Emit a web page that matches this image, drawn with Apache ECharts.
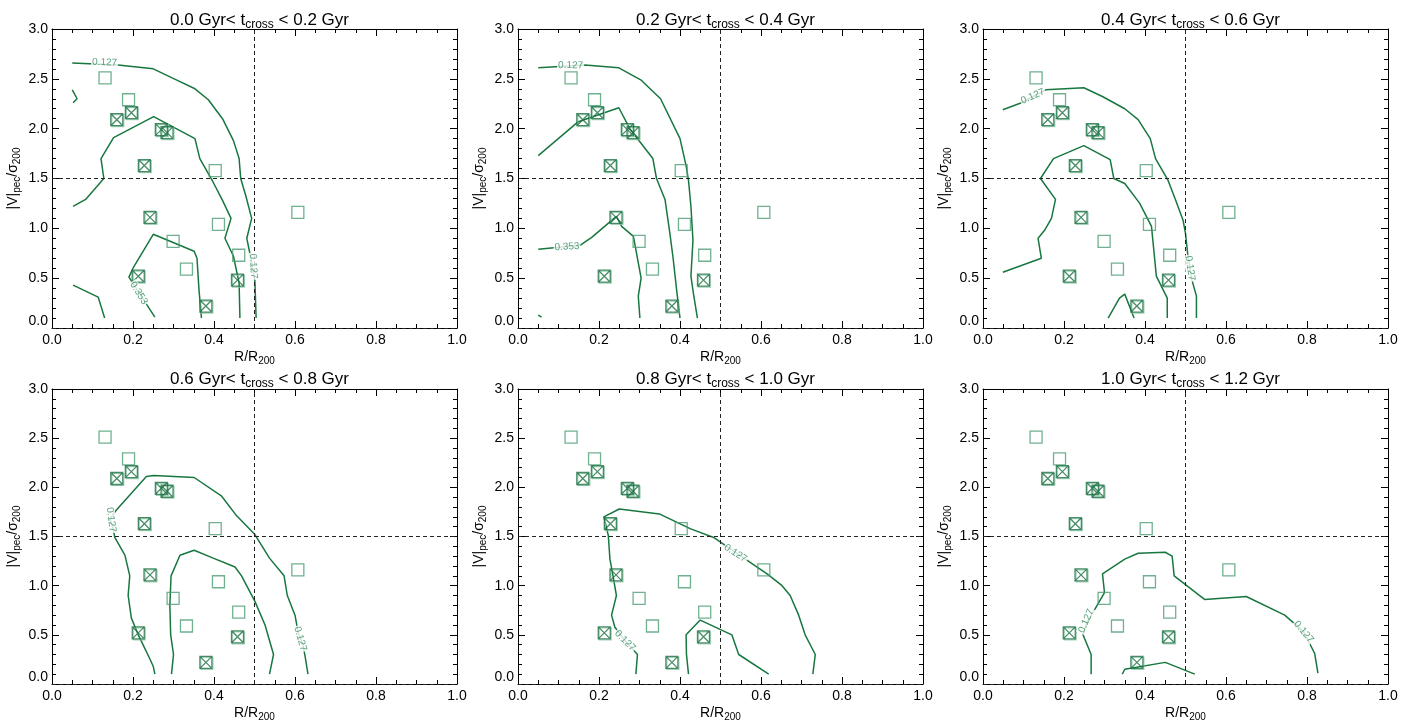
<!DOCTYPE html>
<html>
<head>
<meta charset="utf-8">
<script src="https://cdn.jsdelivr.net/npm/echarts@6/dist/echarts.min.js"></script>
<style>
html,body{margin:0;padding:0;background:#fff;}
#chart{width:1415px;height:723px;}
</style>
</head>
<body>
<div id="chart"></div>
<script>
// ---------- DATA ----------
const timeBins = [['0.0','0.2'],['0.2','0.4'],['0.4','0.6'],['0.6','0.8'],['0.8','1.0'],['1.0','1.2']];
const xTicks = [0, 0.2, 0.4, 0.6, 0.8, 1.0];
const yTicks = [0, 0.5, 1.0, 1.5, 2.0, 2.5, 3.0];
const splitR = 0.5;      // dashed vertical line R/R200
const splitV = 1.5;      // dashed horizontal line |V|/sigma

// open squares [R/R200, |V|pec/sigma200]
const openSquares = [[0.131,2.51],[0.189,2.29],[0.403,1.58],[0.607,1.16],[0.411,1.04],[0.299,0.87],[0.461,0.73],[0.332,0.59]];
// crossed squares
const crossSquares = [[0.160,2.09],[0.196,2.16],[0.270,1.99],[0.284,1.96],[0.228,1.63],[0.242,1.11],[0.213,0.52],[0.458,0.48],[0.380,0.22]];

// contour lines per panel
const contours1 = [
  [[0.050,2.66],[0.163,2.64],[0.250,2.60],[0.307,2.49],[0.353,2.40],[0.386,2.29],[0.421,2.10],[0.448,1.88],[0.462,1.70],[0.466,1.50],[0.479,1.32],[0.493,1.10],[0.481,0.90],[0.490,0.72],[0.501,0.47],[0.504,0.10]],
  [[0.050,2.39],[0.062,2.30],[0.052,2.26]],
  [[0.052,1.22],[0.083,1.29],[0.128,1.50],[0.121,1.70],[0.152,1.91],[0.251,2.12],[0.353,1.90],[0.365,1.70],[0.397,1.47],[0.421,1.28],[0.442,1.10],[0.427,0.90],[0.448,0.72],[0.462,0.45],[0.464,0.10]],
  [[0.254,0.11],[0.190,0.51],[0.200,0.60],[0.250,0.94],[0.351,0.77],[0.358,0.70],[0.363,0.38],[0.369,0.10]],
  [[0.052,0.43],[0.114,0.31],[0.130,0.10]]
];
const contours2 = [
  [[0.050,2.61],[0.165,2.64],[0.249,2.61],[0.303,2.49],[0.352,2.30],[0.400,1.90],[0.415,1.63],[0.421,1.48],[0.427,1.22],[0.432,0.88],[0.427,0.52],[0.433,0.35],[0.443,0.10]],
  [[0.050,1.73],[0.149,2.07],[0.249,2.21],[0.276,2.00],[0.333,1.70],[0.342,1.50],[0.363,1.29],[0.375,0.95],[0.383,0.70],[0.392,0.37],[0.400,0.10]],
  [[0.050,0.79],[0.153,0.83],[0.182,0.91],[0.243,1.12],[0.256,1.02],[0.285,0.92],[0.304,0.50],[0.297,0.32],[0.301,0.10]],
  [[0.050,0.13],[0.058,0.11]]
];
const contours3 = [
  [[0.049,2.19],[0.095,2.26],[0.155,2.39],[0.249,2.41],[0.296,2.32],[0.350,2.20],[0.383,2.09],[0.413,1.90],[0.426,1.70],[0.457,1.48],[0.476,1.28],[0.494,1.08],[0.500,0.95],[0.506,0.72],[0.516,0.48],[0.527,0.32],[0.527,0.10]],
  [[0.049,0.56],[0.144,0.70],[0.136,0.90],[0.152,0.98],[0.169,1.10],[0.179,1.29],[0.142,1.50],[0.174,1.70],[0.249,1.83],[0.314,1.69],[0.323,1.50],[0.350,1.45],[0.387,1.25],[0.416,1.02],[0.428,0.52],[0.455,0.30],[0.455,0.10]],
  [[0.309,0.10],[0.337,0.30],[0.350,0.34],[0.373,0.10]]
];
const contours4 = [
  [[0.254,0.10],[0.250,0.18],[0.233,0.33],[0.213,0.50],[0.196,0.67],[0.188,0.90],[0.192,1.10],[0.180,1.31],[0.155,1.49],[0.151,1.58],[0.143,1.68],[0.159,1.77],[0.233,2.11],[0.251,2.12],[0.351,2.10],[0.419,1.91],[0.456,1.71],[0.501,1.52],[0.537,1.28],[0.573,1.10],[0.581,0.90],[0.600,0.70],[0.608,0.52],[0.619,0.41],[0.625,0.28],[0.632,0.10]],
  [[0.295,0.10],[0.300,0.30],[0.293,0.50],[0.291,0.80],[0.294,1.10],[0.316,1.31],[0.351,1.36],[0.398,1.28],[0.452,1.19],[0.468,1.10],[0.501,0.84],[0.526,0.60],[0.547,0.30],[0.537,0.10]]
];
const contours5 = [
  [[0.291,0.10],[0.295,0.30],[0.262,0.45],[0.239,0.58],[0.231,0.70],[0.243,0.90],[0.235,1.09],[0.227,1.27],[0.223,1.51],[0.212,1.70],[0.250,1.78],[0.349,1.73],[0.425,1.58],[0.483,1.49],[0.536,1.34],[0.565,1.26],[0.615,1.12],[0.652,1.00],[0.672,0.90],[0.693,0.70],[0.709,0.50],[0.734,0.30],[0.728,0.10]],
  [[0.421,0.10],[0.416,0.30],[0.415,0.50],[0.450,0.65],[0.528,0.50],[0.545,0.30],[0.619,0.10]]
];
const contours6 = [
  [[0.267,0.10],[0.267,0.30],[0.247,0.50],[0.257,0.63],[0.276,0.76],[0.300,0.93],[0.295,1.12],[0.350,1.27],[0.383,1.33],[0.450,1.34],[0.467,1.30],[0.472,1.10],[0.547,0.86],[0.650,0.89],[0.745,0.70],[0.792,0.53],[0.819,0.31],[0.827,0.11]],
  [[0.344,0.10],[0.350,0.15],[0.450,0.22],[0.523,0.10]]
];
const allContours = [contours1, contours2, contours3, contours4, contours5, contours6];

// contour labels: [x, y, text, angle]
const labels1 = [[0.130,2.665,'0.127',-2],[0.497,0.62,'0.127',-87],[0.214,0.35,'0.353',-58]];
const labels2 = [[0.130,2.635,'0.127',-1],[0.121,0.815,'0.353',3]];
const labels3 = [[0.123,2.325,'0.127',24],[0.511,0.60,'0.127',-82]];
const labels4 = [[0.146,1.67,'0.127',-82],[0.613,0.46,'0.127',-75]];
const labels5 = [[0.264,0.44,'0.127',-45],[0.537,1.33,'0.127',-33]];
const labels6 = [[0.255,0.64,'0.127',66],[0.792,0.53,'0.127',-50]];
const allLabels = [labels1, labels2, labels3, labels4, labels5, labels6];

// ---------- STYLE / LAYOUT ----------
const FONT = '"Liberation Sans", Arial, Helvetica, sans-serif';
const LINE = '#17773f';
const OPEN = '#4c9d73';
const DARK = '#1a6f42';
const LABEL = '#2f8a5c';
const gridLefts = [52, 518, 983];
const gridTops = [29, 389];
const gridHeights = [299, 297];
const gridWidth = 405;
const crossPath = 'path://M0 0H10V10H0Z M0 0L10 10 M10 0L0 10';

const grids = [], xAxes = [], yAxes = [], series = [], titles = [];
const subRich = (fs, pad) => ({ s: { fontSize: fs, padding: [pad, 0, 0, 0], fontFamily: FONT, color: '#000' } });

function axisCommon(extra) {
  return Object.assign({
    type: 'value',
    axisLine: { show: true, onZero: false, lineStyle: { color: '#000', width: 1 } },
    axisTick: { show: true, inside: true, length: 7, lineStyle: { color: '#000', width: 1 } },
    splitLine: { show: false },
    minorSplitLine: { show: false }
  }, extra);
}

for (let i = 0; i < 6; i++) {
  const col = i % 3, row = Math.floor(i / 3);
  grids.push({ left: gridLefts[col], top: gridTops[row], width: gridWidth, height: gridHeights[row] });
  const xBase = {
    gridIndex: i, min: xTicks[0], max: xTicks[xTicks.length - 1], interval: xTicks[1] - xTicks[0],
    minorTick: { show: true, splitNumber: 4, length: 4, lineStyle: { color: '#000', width: 1 } }
  };
  xAxes.push(axisCommon(Object.assign({}, xBase, {
    position: 'bottom',
    axisLabel: { fontSize: 14, color: '#000', fontFamily: FONT, margin: 5, formatter: v => v.toFixed(1) },
    name: 'R/R{s|200}', nameLocation: 'middle', nameGap: 21,
    nameTextStyle: { fontSize: 14, color: '#000', fontFamily: FONT, rich: subRich(10, 7) }
  })));
  xAxes.push(axisCommon(Object.assign({}, xBase, { position: 'top', axisLabel: { show: false } })));
  const yBase = {
    gridIndex: i, min: yTicks[0], max: yTicks[yTicks.length - 1], interval: yTicks[1] - yTicks[0],
    minorTick: { show: true, splitNumber: 5, length: 4, lineStyle: { color: '#000', width: 1 } }
  };
  yAxes.push(axisCommon(Object.assign({}, yBase, {
    position: 'left',
    axisLabel: { fontSize: 14, color: '#000', fontFamily: FONT, margin: 4, formatter: v => v.toFixed(1), verticalAlignMinLabel: 'bottom' },
    name: '|V|{s|pec}/σ{s|200}', nameLocation: 'middle', nameGap: 30, nameRotate: 90,
    nameTextStyle: { fontSize: 14, color: '#000', fontFamily: FONT, rich: subRich(10, 7) }
  })));
  yAxes.push(axisCommon(Object.assign({}, yBase, { position: 'right', axisLabel: { show: false } })));

  const xi = 2 * i, yi = 2 * i;
  // contours
  allContours[i].forEach(c => {
    series.push({ type: 'line', xAxisIndex: xi, yAxisIndex: yi, data: c, symbol: 'none', silent: true,
      lineStyle: { color: LINE, width: 1.5 }, z: 3, animation: false });
  });
  // dashed reference lines
  series.push({ type: 'line', xAxisIndex: xi, yAxisIndex: yi, data: [], silent: true, animation: false, z: 2,
    markLine: { silent: true, symbol: 'none', animation: false, label: { show: false },
      lineStyle: { type: [4, 3], color: '#222', width: 1 },
      data: [{ xAxis: splitR }, { yAxis: splitV }, { yAxis: yTicks[0] }] } });
  // open squares
  series.push({ type: 'scatter', xAxisIndex: xi, yAxisIndex: yi, data: openSquares, symbol: 'rect', symbolSize: 12,
    silent: true, animation: false, z: 4,
    itemStyle: { color: 'transparent', borderColor: OPEN, borderWidth: 1.3 } });
  // light squares beneath crossed squares
  series.push({ type: 'scatter', xAxisIndex: xi, yAxisIndex: yi, data: crossSquares, symbol: 'rect', symbolSize: 12,
    symbolOffset: [1, 1], silent: true, animation: false, z: 4,
    itemStyle: { color: 'transparent', borderColor: '#8cc5a5', borderWidth: 1.2 } });
  // crossed squares
  series.push({ type: 'scatter', xAxisIndex: xi, yAxisIndex: yi, data: crossSquares, symbol: crossPath, symbolSize: 12,
    silent: true, animation: false, z: 5,
    itemStyle: { color: 'transparent', borderColor: DARK, borderWidth: 1.3 } });
  // contour labels
  series.push({ type: 'scatter', xAxisIndex: xi, yAxisIndex: yi, symbolSize: 1, silent: true, animation: false, z: 6,
    itemStyle: { color: 'transparent' },
    data: allLabels[i].map(l => ({ name: l[2], value: [l[0], l[1]], label: { rotate: l[3] } })),
    label: { show: true, position: 'inside', formatter: '{b}', fontSize: 10, color: LABEL, fontFamily: FONT,
      backgroundColor: '#fff', padding: [0, 1] } });

  titles.push({
    text: timeBins[i][0] + ' Gyr< t{s|cross} < ' + timeBins[i][1] + ' Gyr',
    left: gridLefts[col] + gridWidth / 2, top: row === 0 ? 5 : 364, textAlign: 'center',
    textStyle: { fontSize: 17, fontWeight: 'normal', color: '#000', fontFamily: FONT, rich: subRich(12, 9) }
  });
}

const chart = echarts.init(document.getElementById('chart'), null, { renderer: 'canvas' });
chart.setOption({
  animation: false,
  backgroundColor: '#fff',
  title: titles,
  grid: grids,
  xAxis: xAxes,
  yAxis: yAxes,
  series: series
});
</script>
</body>
</html>
